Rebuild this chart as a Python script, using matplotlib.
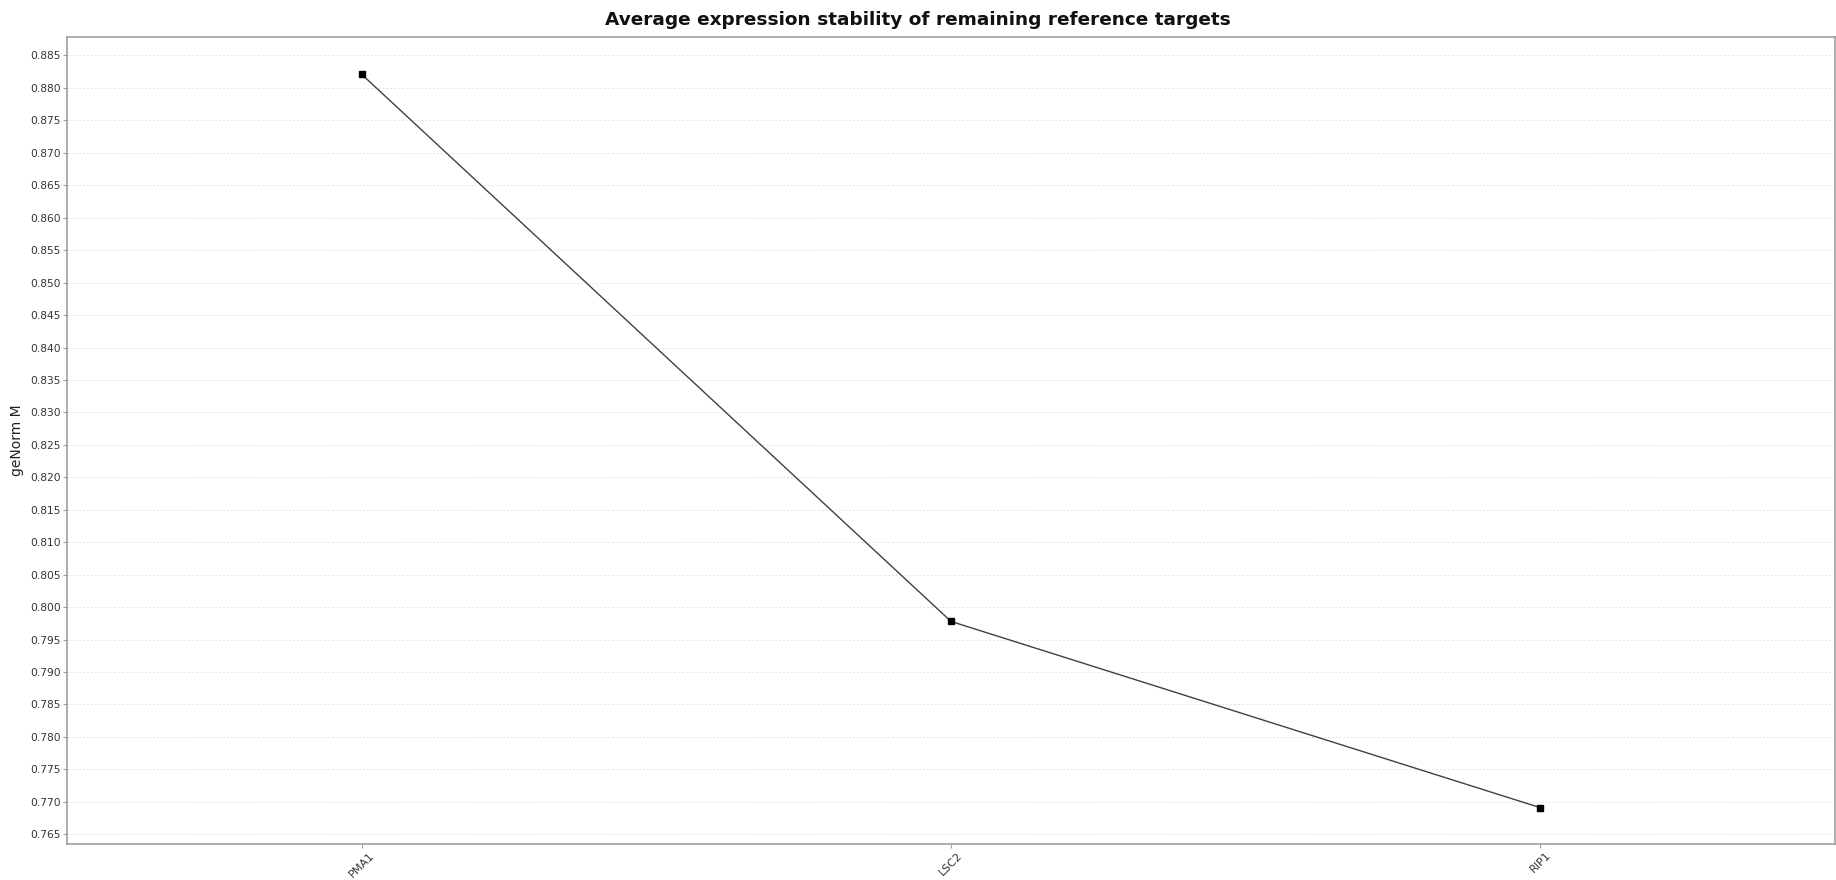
import matplotlib
matplotlib.use("Agg")
import matplotlib.pyplot as plt
import numpy as np

categories = ["PMA1", "LSC2", "RIP1"]
m_values = [0.8821, 0.7978, 0.7691]
y_ticks = [0.765 + 0.005 * i for i in range(25)]

plt.rcParams['font.family'] = ['DejaVu Sans']

fig = plt.figure(figsize=(18.36, 8.8), dpi=100)
ax = fig.add_axes([67 / 1836, 1 - 843.7 / 880, (1835 - 67) / 1836, (843.7 - 37) / 880])

x = np.arange(len(categories))
ax.plot(x, m_values, color="#404040", linewidth=1.0, marker="s", markersize=5,
        markerfacecolor="black", markeredgecolor="black", zorder=3)

ax.set_xlim(-0.5, len(categories) - 0.5)
ax.set_ylim(0.76355, 0.88785)
ax.set_yticks(y_ticks)
ax.set_yticklabels([f"{t:.3f}" for t in y_ticks], fontsize=7.7, color="#333333")
ax.set_xticks(x)
ax.set_xticklabels(categories, rotation=45, ha="center", va="top",
                   fontsize=8, color="#333333")

ax.yaxis.grid(True, color="#e2e2e2", linestyle=(0, (2, 2)), linewidth=0.7)
ax.xaxis.grid(False)
ax.set_axisbelow(True)

for side in ["left", "bottom", "top", "right"]:
    ax.spines[side].set_color("#a0a0a0")
    ax.spines[side].set_linewidth(1.2)
ax.tick_params(axis="both", direction="out", length=3, width=0.8, color="#a0a0a0", pad=1.5)

ax.set_ylabel("geNorm M", fontsize=10, color="#222222", labelpad=4)
fig.suptitle("Average expression stability of remaining reference targets",
             x=0.5, y=1 - 20 / 880, va="center",
             fontsize=13.3, fontweight="bold", color="#111111")

fig.savefig("out.png", dpi=100)
